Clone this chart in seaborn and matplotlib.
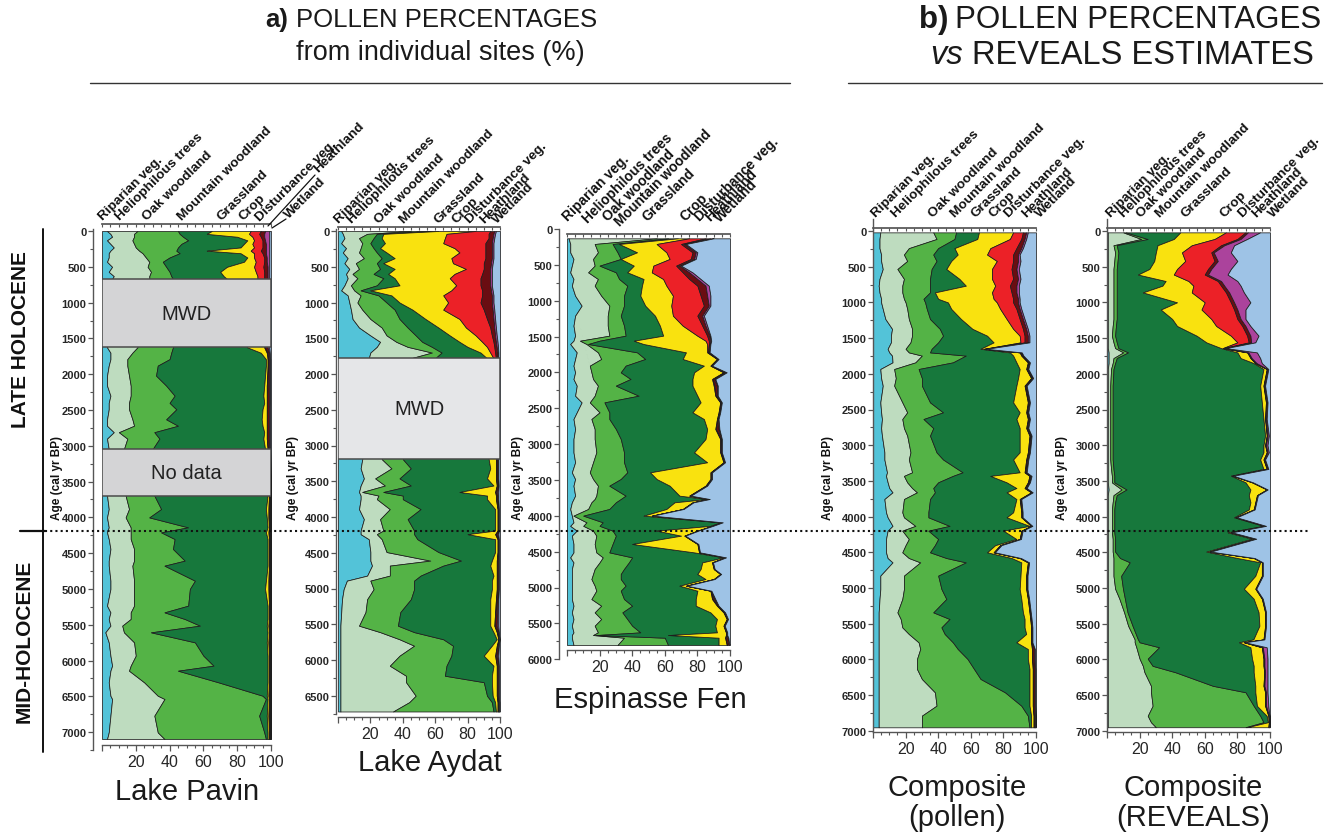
import numpy as np
import matplotlib
matplotlib.use("Agg")
import matplotlib.pyplot as plt
import matplotlib.ticker as mticker
import seaborn as sns
from matplotlib.patches import Rectangle
from matplotlib.lines import Line2D

sns.set_theme(style="ticks")
plt.rcParams["font.family"] = ["Liberation Sans", "DejaVu Sans"]

# ---------- categories ----------
taxa = ["Riparian veg.", "Heliophilous trees", "Oak woodland", "Mountain woodland",
        "Grassland", "Crop", "Disturbance veg.", "Heathland", "Wetland"]
taxa_colors = ["#53c3d8", "#bedcbf", "#54b346", "#17783c", "#f9e20f",
               "#ec2127", "#6a0d12", "#ab439c", "#9ec3e6"]

# ---------- data: cumulative % at the right edge of each band ----------
# columns: Riparian, Heliophilous, Oak, Mountain, Grassland, Crop, Disturbance, Heathland
# (Wetland fills the rest up to 100 %)
pavin_age = [0, 40, 80, 130, 180, 230, 275, 310, 370, 430, 500, 570, 630, 670,
             1625, 1700, 1790, 1880, 2020, 2160, 2300, 2400, 2490, 2630, 2720, 2810, 2900, 3045,
             3696, 3883, 4000, 4139, 4209, 4302, 4441, 4604, 4674, 4884, 5000, 5233, 5326,
             5419, 5512, 5605, 5745, 5931, 6071, 6141, 6304, 6490, 6536, 6769, 7002, 7095]
pavin_edges = [
    [3, 21, 45, 65, 88, 94, 96.5, 99], [5, 19, 46, 62, 87, 93, 96, 99],
    [6, 19, 48, 80, 89, 94, 96, 99], [3, 18, 51, 86, 90, 95, 96.5, 99],
    [5, 19, 47, 84, 89, 95, 97, 99], [7, 20, 45, 82, 90, 95, 97, 99],
    [5, 22, 44, 62, 88, 94, 97, 99], [4, 24, 46, 82, 90, 95, 97, 99],
    [4, 26, 40, 86, 90, 96, 97.5, 99], [3, 28, 36, 84, 91, 96, 97.5, 99],
    [6, 27, 38, 74, 90, 95.5, 98, 99], [4, 29, 40, 70, 91, 96, 98, 99],
    [7, 28, 41, 72, 92, 96, 98, 99], [6, 28, 42, 74, 92, 96, 98, 99],
    [3, 21, 42, 86, 96, 96.5, 98, 99], [5, 18, 41, 94, 97.5, 98, 98.8, 99.3],
    [5, 15, 40, 97, 98, 98.3, 99, 99.5], [4, 15, 33, 97, 98, 98.3, 99, 99.5],
    [3, 16, 32, 96.5, 97.8, 98, 99, 99.5], [3, 17, 38, 96, 97.5, 98, 99, 99.5],
    [5, 17, 43, 95.5, 97.5, 97.8, 99, 99.5], [4, 16, 40, 96, 97.5, 97.8, 99, 99.5],
    [4, 16, 44, 95, 97.5, 97.8, 98.8, 99.5], [3, 18, 38, 94.5, 97.5, 97.8, 98.8, 99.5],
    [3, 19, 45, 95, 97.5, 97.8, 98.8, 99.5], [7, 10, 31, 96, 97.5, 97.8, 98.8, 99.5],
    [3, 15, 34, 95.5, 97.5, 97.8, 98.8, 99.5], [4, 13, 30, 96.5, 98, 98.2, 99, 99.5],
    [3, 14, 31, 98, 98.8, 99, 99.4, 99.7], [4, 16, 35, 97, 98.5, 98.8, 99.3, 99.7],
    [3, 14, 28, 97.5, 98.5, 98.8, 99.3, 99.7], [4, 17, 51, 98, 98.8, 99, 99.4, 99.7],
    [3, 17, 35, 97, 98.5, 98.8, 99.3, 99.7], [4, 17, 43, 98, 98.8, 99, 99.4, 99.7],
    [5, 19, 42, 98, 98.8, 99, 99.4, 99.7], [4, 19, 49, 98, 98.8, 99, 99.4, 99.7],
    [4, 18, 37, 98, 98.8, 99, 99.4, 99.7], [5, 19, 55, 97, 98.5, 98.8, 99.3, 99.7],
    [5, 19, 52, 96.5, 98.5, 98.8, 99.3, 99.7], [3, 19, 51, 98, 98.8, 99, 99.4, 99.7],
    [5, 17, 37, 98, 98.8, 99, 99.4, 99.7], [4, 17, 49, 98, 98.8, 99, 99.4, 99.7],
    [5, 12, 58, 97.5, 98.5, 98.8, 99.3, 99.7], [2, 13, 29, 98, 98.8, 99, 99.4, 99.7],
    [4, 19, 55, 97.5, 98.5, 98.8, 99.3, 99.7], [5, 20, 60, 98, 98.8, 99, 99.4, 99.7],
    [6, 17, 66, 98, 98.8, 99, 99.4, 99.7], [5, 16, 45, 98, 98.8, 99, 99.4, 99.7],
    [4, 25, 69, 98, 98.8, 99, 99.4, 99.7], [5, 33, 95, 97.5, 98.5, 98.8, 99.3, 99.7],
    [6, 37, 97, 98, 98.8, 99, 99.4, 99.7], [5, 31, 93, 97.5, 98.5, 98.8, 99.3, 99.7],
    [4, 33, 96, 98, 98.8, 99, 99.4, 99.7], [3, 37, 97, 98, 98.8, 99, 99.4, 99.7],
]
pavin_gaps = [(670, 1625, "MWD"), (3045, 3696, "No data")]

aydat_age = [0, 40, 100, 170, 240, 300, 380, 450, 530, 600, 660, 760, 830, 900, 1000,
             1100, 1230, 1350, 1460, 1550, 1620, 1700, 1780,
             3190, 3320, 3460, 3560, 3650, 3700, 3750, 3890, 4030, 4190, 4240, 4310, 4490,
             4610, 4680, 4820, 4890, 5010, 5150, 5330, 5520, 5610, 5710, 5800, 5940, 6080,
             6220, 6310, 6500, 6590, 6720]
aydat_edges = [
    [2, 45, 58, 62, 85, 94, 96.5, 97.5], [3, 18, 24, 28, 67, 93, 96, 97],
    [4, 13, 22, 27, 66, 93, 95.5, 96.5], [2, 15, 20, 29, 65, 91, 95, 96],
    [5, 14, 22, 26, 72, 91, 95, 96], [3, 13, 24, 30, 75, 91, 95, 96],
    [6, 16, 27, 35, 70, 91, 95, 96], [4, 11, 24, 28, 71, 90, 94.5, 95.5],
    [7, 13, 26, 35, 79, 90, 94, 95], [5, 9, 22, 31, 72, 89, 94, 95],
    [6, 12, 28, 35, 69, 88, 94, 95], [4, 8, 24, 38, 73, 88, 94, 95],
    [2, 10, 14, 20, 70, 89, 94.5, 95.5], [6, 14, 25, 33, 65, 89, 95, 96],
    [7, 12, 30, 38, 68, 88, 95, 96], [8, 15, 35, 46, 65, 90, 95.5, 96.5],
    [9, 20, 38, 54, 75, 92, 96, 97], [13, 27, 43, 62, 79, 94, 96.5, 97.5],
    [20, 30, 48, 69, 85, 95, 97, 98], [26, 36, 52, 75, 89, 96, 97.5, 98.5],
    [24, 43, 58, 80, 92, 96.5, 98, 98.8], [20, 58, 64, 88, 94, 97, 98.5, 99],
    [19, 45, 60, 92, 96, 97.5, 98.5, 99],
    [15, 27, 40, 93, 97.5, 97.8, 98.5, 99], [14, 33, 45, 94, 97.5, 97.8, 98.5, 99],
    [16, 23, 38, 92, 97.5, 97.8, 98.5, 99], [14, 29, 45, 96, 98, 98.2, 98.8, 99.2],
    [13, 15, 28, 75, 97, 97.3, 98.3, 99], [14, 25, 40, 92, 97.5, 97.8, 98.5, 99],
    [14, 24, 40, 92, 97.5, 97.8, 98.5, 99], [13, 32, 51, 97, 98.5, 98.7, 99, 99.3],
    [16, 26, 43, 97, 98.5, 98.7, 99, 99.3], [14, 28, 47, 97, 98.5, 98.7, 99, 99.3],
    [14, 24, 47, 80, 97, 97.3, 98.3, 99], [19, 27, 49, 97, 98.5, 98.7, 99, 99.3],
    [20, 30, 62, 97, 98.5, 98.7, 99, 99.3], [20, 57, 76, 95, 98, 98.3, 99, 99.3],
    [21, 32, 65, 94, 98, 98.3, 99, 99.3], [18, 32, 51, 96, 98, 98.3, 99, 99.3],
    [5.5, 20, 47, 95, 98, 98.3, 99, 99.3], [3.5, 22, 47, 95, 98, 98.3, 99, 99.3],
    [2.5, 18, 45, 94, 97.5, 97.8, 98.5, 99], [2, 17, 38.5, 94, 97, 97.3, 98.3, 99],
    [1.5, 13, 37, 94, 96.5, 96.8, 98, 99], [1.5, 26, 47, 96, 98, 98.3, 99, 99.3],
    [1.5, 38, 65, 98, 99, 99.2, 99.4, 99.6], [1.5, 47, 71, 95, 98, 98.3, 99, 99.3],
    [1.5, 38, 70, 90, 97, 97.3, 98.3, 99], [1.5, 32, 67, 96, 98, 98.3, 99, 99.3],
    [1.5, 42, 66, 95, 98, 98.3, 99, 99.3], [1.5, 42, 90, 95, 98, 98.3, 99, 99.3],
    [1.5, 48, 92, 95.5, 98, 98.3, 99, 99.3], [1.5, 44, 95, 97, 98.5, 98.7, 99.2, 99.5],
    [1.5, 34, 96, 97.5, 98.5, 98.7, 99.2, 99.5],
]
aydat_gaps = [(1780, 3190, "MWD")]

espinasse_age = [130, 209, 325, 418, 511, 604, 697, 790, 930, 1069, 1209, 1348, 1488, 1558,
                 1604, 1720, 1813, 1906, 1999, 2092, 2185, 2325, 2418, 2557, 2650, 2790,
                 2929, 3115, 3254, 3394, 3487, 3580, 3719, 3766, 3812, 3905, 3998, 4091,
                 4140, 4207, 4277, 4393, 4510, 4580, 4650, 4742, 4812, 4882, 4975, 5045,
                 5161, 5254, 5347, 5440, 5533, 5626, 5663, 5700, 5802]
espinasse_edges = [
    [1, 55, 62, 68, 75, 85, 88, 90], [2, 17, 28, 32, 55, 70, 72, 73],
    [2, 19, 31, 43, 61, 77, 79, 80], [4, 16, 33, 33, 63, 76, 78, 79],
    [3, 17, 20, 41, 53, 67, 69, 70], [2, 13, 30, 37, 52, 71, 75, 77],
    [4, 19, 32, 47, 59, 75, 80, 82], [3, 17, 37, 46, 61, 80, 85, 87],
    [5, 21, 35, 45, 65, 82, 86, 88], [9, 26, 35, 48, 64, 84, 87, 88],
    [5, 25, 33, 54, 65, 80, 83, 84], [4, 25, 35, 57, 71, 83, 85, 86],
    [5, 26, 36, 59, 80, 86, 87.5, 88], [4, 8, 20, 41, 85, 87, 88, 88.5],
    [2, 12, 13, 47, 86, 87, 87.5, 88], [6, 19, 43, 73, 86, 86.5, 87, 87.5],
    [5, 21, 48, 71, 92, 92.3, 92.6, 93], [4, 14, 36, 84, 88, 88.3, 88.6, 89],
    [5, 15, 33, 78, 96, 96.5, 97.5, 98], [4, 16, 39, 77, 89, 89.5, 90.5, 91],
    [6, 19, 30, 77, 90, 90.5, 92, 92.5], [5, 17, 44, 80, 91, 91.3, 92, 92.5],
    [9, 14, 23, 82, 94, 94.3, 94.8, 95], [6, 20, 26, 77, 93, 93.3, 93.8, 94],
    [4, 15, 26, 84, 92, 92.3, 92.8, 93], [5, 17, 30, 86, 91, 91.5, 93, 93.5],
    [4, 17, 33, 85, 94, 94.3, 94.8, 95], [4, 18, 35, 78, 94, 94.3, 94.6, 95],
    [5, 16, 35, 86, 96, 96.3, 96.6, 97], [3, 14, 37, 51, 88, 88.3, 88.6, 89],
    [5, 16, 33, 55, 88, 88.3, 88.6, 89], [4, 19, 26, 63, 85, 85.3, 85.6, 86],
    [5, 18, 36, 69, 75, 75.3, 75.6, 76], [4, 17, 33, 86, 87, 87.2, 87.4, 87.6],
    [3, 15, 30, 66, 77, 77.2, 77.4, 77.6], [2, 13, 26, 61, 71, 71.2, 71.4, 71.6],
    [3, 4, 10, 47, 52, 52.2, 52.4, 52.6], [4, 12, 22, 94, 95, 95.2, 95.4, 95.6],
    [2, 10, 20, 88, 89, 89.2, 89.4, 89.6], [6, 16, 28, 55, 80, 80.2, 80.4, 80.6],
    [3, 18, 30, 70, 72, 72.2, 72.4, 72.6], [4, 17, 28, 40, 80, 80.2, 80.4, 80.6],
    [4, 18, 26, 78, 81, 81.2, 81.4, 81.6], [2, 22, 40, 96, 97, 97.2, 97.4, 97.6],
    [4, 20, 38, 83, 89, 89.2, 89.4, 89.6], [3, 17, 35, 82, 90, 90.2, 90.4, 90.6],
    [3, 16, 33, 80, 94, 94.2, 94.4, 94.6], [3, 15, 33, 85, 90, 90.2, 90.4, 90.6],
    [3, 17, 36, 69, 73, 73.2, 73.4, 73.6], [3, 18, 33, 80, 88, 88.2, 88.4, 88.6],
    [3, 15, 35, 79, 89, 89.5, 90.5, 91], [4, 21, 40, 79, 92, 92.3, 92.8, 93],
    [3, 17, 34, 88, 96, 96.3, 96.8, 97], [4, 21, 37, 92, 98, 98.2, 98.5, 98.8],
    [3, 17, 40, 91, 96, 96.2, 96.5, 96.8], [4, 19, 45, 92, 97.5, 97.7, 98, 98.3],
    [3, 16, 18, 62, 97.5, 97.7, 98, 98.3], [3, 35, 60, 93, 97, 97.3, 98.5, 99],
    [4, 31, 62, 93, 98, 98.3, 99.3, 99.6],
]

pollen_age = [19, 112, 240, 330, 420, 532, 670, 766, 860, 950, 1000, 1090, 1232, 1370,
              1466, 1560, 1650, 1700, 1745, 1840, 1933, 2060, 2166, 2400, 2540, 2633, 2760,
              2866, 3100, 3200, 3380, 3430, 3520, 3600, 3660, 3754, 3940, 4010, 4130, 4197,
              4314, 4400, 4500, 4580, 4641, 4827, 5014, 5154, 5341, 5434, 5551, 5644, 5761,
              5854, 5994, 6134, 6274, 6461, 6648, 6788, 6951]
pollen_edges = [
    [4.5, 37, 51, 65, 86, 92, 94, 95], [4, 39, 50, 64, 84, 91, 93, 94],
    [4, 22, 40, 50, 72, 88, 91, 92], [5, 19, 37, 52, 70, 86, 89, 90],
    [5, 21, 39, 48, 76, 86, 89, 90.5], [6, 15, 36, 45, 73, 85, 88, 89.5],
    [4, 19, 35, 53, 73, 86, 89, 90.5], [3.5, 18, 35, 57, 75, 84, 88, 89.5],
    [4, 18, 35, 38, 73, 85, 88, 89.5], [5, 19, 31, 40, 74, 86, 89, 90],
    [5, 20, 32, 46, 76, 86, 89, 90], [6, 21, 33, 48, 78, 88, 90, 91],
    [7.6, 22, 35, 54, 82, 90, 92, 93], [11.7, 24, 41, 61, 86, 92, 94, 95],
    [11, 24, 43, 70, 90, 93, 95, 96], [11, 23, 40, 74, 90.5, 93, 95, 96],
    [9, 20, 36, 66, 68, 68.5, 69, 69.5], [10, 22, 35, 84, 90, 90.3, 90.8, 91.3],
    [11.7, 30, 57, 86, 91, 91.3, 91.8, 92.3], [12, 26, 49, 88, 95, 95.3, 95.8, 96.3],
    [4.5, 13, 28, 90, 94, 94.3, 94.8, 95.3], [5, 14, 30, 89, 97, 97.3, 97.8, 98.3],
    [6, 13, 30, 88, 93, 93.3, 93.8, 94.3], [4.5, 18, 35, 86, 95, 95.3, 95.8, 96.3],
    [5, 21, 43, 90, 94, 94.3, 94.8, 95.3], [5.5, 18, 31, 88, 95, 95.3, 95.8, 96.3],
    [5, 19, 37, 90, 94, 94.3, 94.8, 95.3], [5.5, 21, 35, 90, 96, 96.3, 96.8, 97.3],
    [7, 23, 39, 90, 95, 95.3, 95.8, 96.3], [7, 22, 43, 86, 94, 94.3, 94.8, 95.3],
    [8.6, 24, 55, 90, 93, 93.3, 93.8, 94.3], [8, 19, 49, 72, 96, 96.3, 96.8, 97.3],
    [9, 21, 40, 82, 95, 95.3, 95.8, 96.3], [10, 24, 37, 88, 93, 93.3, 93.8, 94.3],
    [12, 27, 38, 82, 97, 97.3, 97.6, 98], [7, 19, 35, 88, 90, 90.3, 90.6, 91],
    [8, 18, 34, 86, 91, 91.2, 91.5, 91.8], [9, 19, 34, 82, 91, 91.2, 91.5, 91.8],
    [12, 26, 47, 96, 97, 97.2, 97.5, 97.8], [9, 18, 34, 80, 91, 91.2, 91.5, 91.8],
    [8, 22, 40, 88, 90, 90.2, 90.5, 90.8], [8, 20, 38, 75, 78, 78.2, 78.5, 78.8],
    [8, 18, 35, 70, 74, 74.2, 74.5, 74.8], [9, 22, 45, 85, 90, 90.2, 90.5, 90.8],
    [12, 29, 57, 91, 95, 95.2, 95.5, 95.8], [4.5, 19, 40, 90.5, 94, 94.2, 94.5, 94.8],
    [4.5, 19, 42, 90, 94, 94.2, 94.5, 94.8], [4, 18, 45, 91, 95, 95.2, 95.5, 95.8],
    [3.5, 15, 37, 92, 96, 96.2, 96.5, 96.8], [3.5, 17, 47, 93, 96.5, 96.7, 97, 97.3],
    [3.5, 18, 42, 93, 97, 97.2, 97.5, 97.8], [3.5, 22, 44, 94, 97, 97.2, 97.5, 97.8],
    [3.5, 28, 49, 88, 97, 97.2, 97.5, 97.8], [3.5, 29, 52, 95, 97.5, 97.8, 99, 99.3],
    [3.5, 27, 58, 95, 97.5, 97.8, 99, 99.3], [3.5, 27, 62, 96, 98, 98.3, 99.2, 99.5],
    [3.5, 30, 66, 96, 98, 98.3, 99.2, 99.5], [3.5, 38, 81, 96, 98, 98.3, 99.2, 99.5],
    [3.5, 39, 91, 96, 98, 98.3, 99.2, 99.5], [3.5, 30, 95, 97, 98.5, 98.7, 99.4, 99.6],
    [3.5, 30, 96, 97, 98.5, 98.7, 99.4, 99.6],
]

reveals_age = [19, 112, 200, 300, 420, 532, 610, 700, 766, 860, 999, 1100, 1232, 1330,
               1466, 1560, 1640, 1700, 1780, 1850, 1933, 2166, 2400, 2633, 2866, 3000,
               3100, 3200, 3333, 3427, 3520, 3620, 3700, 3800, 3900, 4010, 4130, 4220,
               4310, 4490, 4580, 4640, 4830, 5010, 5150, 5340, 5530, 5720, 5760, 5830,
               5990, 6090, 6180, 6370, 6460, 6650, 6790, 6880, 6950]
reveals_edges = [
    [0.5, 10, 11.5, 45, 73, 85, 86.5, 94], [0.5, 21, 25, 41, 66, 80, 82, 86],
    [0.5, 4, 6, 31, 52, 70, 72, 78], [0.5, 5, 7, 30, 46, 64, 65.5, 76],
    [0.5, 4.5, 6.5, 29, 48, 66, 68, 80], [0.5, 4, 6, 26, 43, 62, 64, 76],
    [0.5, 4, 6, 19, 41, 60, 62, 74], [0.5, 4, 6, 36, 50, 68, 70, 80],
    [0.5, 4, 6, 34, 53, 70, 72, 82], [0.5, 4, 6, 22, 52, 73, 75, 84],
    [0.5, 4, 6, 43, 60, 76, 78, 88], [0.5, 4, 6, 33, 58, 78, 80, 85],
    [0.5, 4, 6, 40, 64, 80, 82, 85], [0.5, 3.5, 5.5, 43, 67, 83, 85, 88],
    [0.5, 3, 5, 55, 76, 86, 88, 93], [0.5, 4, 6, 61, 80, 87, 88.5, 91],
    [0.5, 5, 7, 70, 71, 71.5, 72, 73], [1, 10, 13, 80, 86, 86.3, 86.8, 92],
    [1, 4, 6, 82, 88, 88.3, 88.8, 94], [1, 3.5, 5, 90, 91, 91.3, 91.8, 95],
    [0.5, 2.5, 4, 96, 98, 98.2, 98.5, 99], [0.5, 2, 3.5, 94, 96, 96.2, 96.5, 97],
    [0.5, 2, 3.5, 95, 97.5, 97.7, 98, 98.5], [0.5, 2, 3.5, 96, 97, 97.2, 97.5, 98],
    [0.5, 2, 3.5, 97, 98, 98.2, 98.5, 99.3], [0.5, 2, 3.5, 96, 97, 97.2, 97.6, 98.5],
    [0.5, 2, 3.5, 96, 98, 98.2, 98.5, 99.3], [0.5, 2, 3.5, 94, 96, 96.2, 96.5, 97],
    [0.5, 2.5, 4, 96, 98, 98.2, 98.5, 99], [0.5, 3, 4.5, 76, 77, 77.2, 77.4, 77.6],
    [0.5, 3, 4.5, 85, 89, 89.2, 89.4, 89.6], [1, 9, 12, 88, 98, 98.2, 98.4, 98.6],
    [0.5, 4, 6, 87, 92, 92.2, 92.4, 92.6], [0.5, 3.5, 5, 88, 91, 91.2, 91.4, 91.6],
    [0.5, 3, 4.5, 87, 90, 90.2, 90.4, 90.6], [0.5, 3, 4.5, 78, 79, 79.2, 79.4, 79.6],
    [0.5, 3, 4.5, 96, 97, 97.2, 97.4, 97.6], [0.5, 3, 4.5, 74, 76, 76.2, 76.4, 76.6],
    [0.5, 3.5, 5, 89, 91, 91.2, 91.4, 91.6], [0.5, 3.5, 5, 61, 63, 63.2, 63.4, 63.6],
    [0.5, 4, 8, 80, 90, 90.2, 90.4, 90.6], [0.5, 4, 14, 94, 95, 95.2, 95.4, 95.6],
    [0.5, 4, 8.7, 91, 95, 95.2, 95.4, 95.6], [0.5, 5, 9.8, 84, 91, 91.2, 91.4, 91.6],
    [0.5, 7.6, 11, 90, 95, 95.2, 95.4, 95.6], [0.5, 10.5, 12.6, 93, 97, 97.2, 97.4, 97.6],
    [0.5, 13, 15.7, 93.5, 97, 97.2, 97.4, 97.6], [0.5, 17, 19, 89.8, 96, 96.2, 96.4, 96.6],
    [0.5, 17, 20, 81, 84, 84.2, 84.4, 84.6], [0.5, 18, 32, 88, 95, 95.2, 95.6, 98],
    [0.5, 20, 25, 89, 96, 96.2, 96.6, 98.5], [0.5, 22, 28, 90, 96, 96.2, 96.6, 98.5],
    [0.5, 23, 42, 90, 96.5, 96.7, 97, 98.5], [0.5, 27, 65, 91, 96, 96.2, 96.6, 98.5],
    [0.5, 27, 85, 91, 97, 97.2, 97.6, 98.5], [0.5, 28, 90, 92, 97, 97.2, 97.6, 99],
    [0.5, 25, 94, 98, 99, 99.2, 99.4, 99.6], [0.5, 27, 96, 98.8, 99.3, 99.4, 99.5, 99.7],
    [0.5, 30, 85, 86, 99, 99.2, 99.4, 99.6],
]

# ---------- figure ----------
W, H = 1332, 837
fig = plt.figure(figsize=(W / 100, H / 100), dpi=100)


def fx(px):
    return px / W


def fy(py):
    return 1 - py / H


def draw_panel(x0, x1, y_zero, px_per_yr, age_lim, age, edges, spine_out,
               top_age, bottom_age, spine_top, spine_end, label_max, gaps=(), gap_color="#d4d4d6"):
    top_px = y_zero + age_lim[1] * px_per_yr
    bot_px = y_zero + age_lim[0] * px_per_yr
    ax = fig.add_axes([fx(x0), fy(bot_px), (x1 - x0) / W, (bot_px - top_px) / H])
    ax.set_xlim(0, 100)
    ax.set_ylim(age_lim)
    ax.patch.set_alpha(0)

    age = np.asarray(age, float)
    e = np.asarray(edges, float)
    n = len(age)
    bounds = np.column_stack([np.zeros(n), e, np.full(n, 100.0)])
    for i, col in enumerate(taxa_colors):
        ax.fill_betweenx(age, bounds[:, i], bounds[:, i + 1], facecolor=col,
                         edgecolor="#1e1e1e", linewidth=0.55, zorder=2)

    for a0, a1, txt in gaps:
        ax.add_patch(Rectangle((0, a0), 100, a1 - a0, facecolor=gap_color,
                               edgecolor="#4a4a4a", linewidth=1.1, zorder=4))
        ax.text(50, (a0 + a1) / 2, txt, ha="center", va="center", fontsize=14.5,
                color="#222222", zorder=5)

    for s in ("top", "right"):
        ax.spines[s].set_visible(False)
    ax.spines["left"].set_position(("outward", spine_out))
    ax.spines["left"].set_bounds(spine_top, spine_end)
    ax.spines["bottom"].set_position(("data", bottom_age))
    for s in ("left", "bottom"):
        ax.spines[s].set_color("#555555")
        ax.spines[s].set_linewidth(1.0)

    yt = np.arange(0, label_max + 1, 500)
    ax.set_yticks(yt, [str(v) for v in yt], fontsize=8, fontweight="bold")
    ax.set_yticks(np.arange(0, spine_end + 1, 250), minor=True)
    ax.set_xticks(np.arange(0, 101, 20), ["", "20", "40", "60", "80", "100"], fontsize=11.5)
    ax.set_xticks(np.arange(0, 101, 5), minor=True)
    ax.tick_params(axis="y", which="major", length=3.5, width=0.9, pad=1.2, color="#555555")
    ax.tick_params(axis="y", which="minor", length=2.2, width=0.8, color="#555555")
    ax.tick_params(axis="x", which="major", length=4.5, width=0.9, pad=2, color="#555555")
    ax.tick_params(axis="x", which="minor", length=2.5, width=0.8, color="#555555")

    frac = (age_lim[0] - top_age) / (age_lim[0] - age_lim[1])
    top = ax.secondary_xaxis(frac)
    top.set_xticks(np.arange(0, 101, 5))
    top.xaxis.set_major_formatter(mticker.NullFormatter())
    top.tick_params(axis="x", direction="in", length=2.5, width=0.8, color="#555555")
    top.spines["top"].set_color("#555555")
    top.spines["bottom"].set_color("#555555")
    return ax


draw_panel(102, 271, 232, 0.0716, (7300, -100), pavin_age, pavin_edges, 6.5,
           -100, 7180, -30, 7250, 7000, gaps=pavin_gaps, gap_color="#d4d4d6")
draw_panel(338, 500, 232, 0.0715, (6800, -60), aydat_age, aydat_edges, 1.5,
           -60, 6800, -30, 6750, 6500, gaps=aydat_gaps, gap_color="#e5e6e8")
draw_panel(567, 730, 230, 0.0717, (6000, -100), espinasse_age, espinasse_edges, 5.8,
           70, 5870, 0, 6000, 6000)
draw_panel(873, 1036, 232, 0.0714, (7020, -170), pollen_age, pollen_edges, 0,
           -40, 7020, -170, 7020, 7000)
draw_panel(1107, 1270, 232, 0.0714, (7020, -170), reveals_age, reveals_edges, 0,
           -40, 7020, -170, 7020, 7000)

# ---------- taxon labels ----------
label_pos = {
    "pavin": ([(103, 221), (120, 221), (147, 221), (182, 221), (222, 221), (243, 221),
               (260, 222), (318, 173), (289, 219)], 9.7),
    "aydat": ([(339, 224), (352, 224), (379, 224), (404, 224), (438, 224), (456, 224),
               (470, 224), (484, 224), (497, 224)], 9.7),
    "espinasse": ([(568, 222), (588, 224), (608, 222), (620, 227), (647, 222), (685, 222),
                   (700, 222), (710, 222), (720, 223)], 10),
    "pollen": ([(876, 218), (896, 218), (933, 218), (955, 218), (976, 218), (993, 218),
                (1009, 218), (1026, 218), (1040, 218)], 9.7),
    "reveals": ([(1111, 218), (1124, 218), (1141, 218), (1160, 218), (1185, 218),
                 (1224, 218), (1243, 218), (1256, 218), (1273, 218)], 9.7),
}
for pos, size in label_pos.values():
    for name, (x, y) in zip(taxa, pos):
        fig.text(fx(x), fy(y), name, rotation=45, rotation_mode="anchor", ha="left",
                 va="baseline", fontsize=size, fontweight="bold", color="#111111")

# leader lines for Lake Pavin's Heathland and Wetland
fig.add_artist(Line2D([fx(268), fx(315)], [fy(227), fy(176)], color="#111111", lw=0.9))
fig.add_artist(Line2D([fx(272), fx(286)], [fy(229), fy(220)], color="#111111", lw=0.9))

# ---------- axis titles ----------
for x in (57, 293, 518, 828, 1062):
    fig.text(fx(x), fy(478), "Age (cal yr BP)", rotation=90, ha="center", va="center",
             fontsize=8.5, fontweight="bold", color="#111111")

site_names = [("Lake Pavin", 187, 792), ("Lake Aydat", 430, 763), ("Espinasse Fen", 650, 700),
              ("Composite\n(pollen)", 957, 803), ("Composite\n(REVEALS)", 1193, 803)]
for txt, x, y in site_names:
    fig.text(fx(x), fy(y), txt, ha="center", va="center", fontsize=21, color="#1a1a1a",
             linespacing=1.1)

# ---------- headings ----------
fig.text(fx(288), fy(20), "a)", ha="right", va="center", fontsize=18.5, fontweight="bold",
         color="#1a1a1a")
fig.text(fx(296), fy(20), "POLLEN PERCENTAGES", ha="left", va="center", fontsize=18.5,
         color="#1a1a1a")
fig.text(fx(440), fy(53), "from individual sites (%)", ha="center", va="center", fontsize=19.5,
         color="#1a1a1a")
fig.text(fx(948), fy(20), "b)", ha="right", va="center", fontsize=22.5, fontweight="bold",
         color="#1a1a1a")
fig.text(fx(955), fy(20), "POLLEN PERCENTAGES", ha="left", va="center", fontsize=22.5,
         color="#1a1a1a")
fig.text(fx(930), fy(55), "vs", ha="left", va="center", fontsize=23.5, style="italic",
         color="#1a1a1a")
fig.text(fx(972), fy(55), "REVEALS ESTIMATES", ha="left", va="center", fontsize=23.5,
         color="#1a1a1a")
fig.add_artist(Line2D([fx(90), fx(790)], [fy(84), fy(84)], color="#333333", lw=1.0))
fig.add_artist(Line2D([fx(848), fx(1322)], [fy(84), fy(84)], color="#333333", lw=1.0))

# ---------- period labels ----------
fig.text(fx(21), fy(340), "LATE HOLOCENE", rotation=90, ha="center", va="center",
         fontsize=15, fontweight="bold", color="#111111")
fig.text(fx(24), fy(641), "MID-HOLOCENE", rotation=90, ha="center", va="center",
         fontsize=15, fontweight="bold", color="#111111")
fig.add_artist(Line2D([fx(43), fx(43)], [fy(230), fy(753)], color="#111111", lw=1.4))
fig.add_artist(Line2D([fx(20), fx(45)], [fy(532), fy(532)], color="#111111", lw=1.6))
fig.add_artist(Line2D([fx(45), fx(1310)], [fy(532), fy(532)], color="#111111", lw=1.5,
                      linestyle=(0, (1, 1.5)), zorder=10))

fig.savefig("out.png", dpi=100)
